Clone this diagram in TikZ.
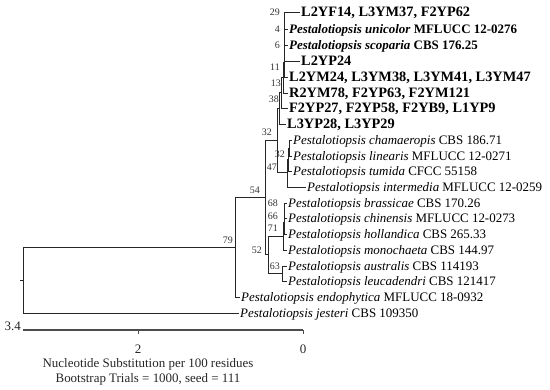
\documentclass[tikz,border=0pt]{standalone}
\usepackage{fontspec}
\setmainfont{Liberation Serif}

\newcommand{\pest}[1]{\textit{Pestalotiopsis #1}}

\begin{document}
\begin{tikzpicture}[
    x=1bp, y=-1bp,
    branch/.style={draw=black!85, line width=0.9bp},
    leaf/.style={anchor=west, inner xsep=1.5bp, inner ysep=0pt, font=\fontsize{13}{15}\selectfont, text height=8.6bp, text depth=0pt},
    bold/.style={leaf, font=\fontsize{13}{15}\selectfont\bfseries},
    code/.style={leaf, font=\fontsize{14.4}{16}\selectfont\bfseries, text height=9.5bp},
    boot/.style={anchor=east, inner sep=0pt, font=\fontsize{10}{12}\selectfont, text height=6.8bp, text depth=0pt, text=black!80},
    scale label/.style={inner sep=0pt, font=\fontsize{13}{15}\selectfont, text=black!85}
]
\useasboundingbox (0,0) rectangle (550,389);

% inner nodes of the tree
\coordinate (stub) at (20,280);
\coordinate (root) at (23,280);
\coordinate (n79) at (235,247);
\coordinate (n54) at (265,197.5);
\coordinate (n32) at (277,140.2);
\coordinate (nq) at (279,108.4);
\coordinate (n38) at (281,92.75);
\coordinate (n13) at (283,77.5);
\coordinate (n11) at (284,62);
\coordinate (n6) at (284,46.9);
\coordinate (n4) at (284,32.75);
\coordinate (n29) at (284,20.5);
\coordinate (n47) at (287,172);
\coordinate (n32b) at (288,159.5);
\coordinate (ncl) at (289,148);
\coordinate (n52) at (268,254.7);
\coordinate (n71) at (283,236);
\coordinate (n66) at (284,222);
\coordinate (n68) at (284,210.5);
\coordinate (n63) at (282,273.5);

% leaves
\node[code] (l2yf14) at (299.5,12) {L2YF14, L3YM37, F2YP62};
\node[bold] (unicolor) at (287.5,29) {\pest{unicolor} MFLUCC 12-0276};
\node[bold] (scoparia) at (287.5,45) {\pest{scoparia} CBS 176.25};
\node[code] (l2yp24) at (299.5,61) {L2YP24};
\node[code] (l2ym24) at (287.5,77) {L2YM24, L3YM38, L3YM41, L3YM47};
\node[code] (r2ym78) at (287.5,93) {R2YM78, F2YP63, F2YM121};
\node[code] (f2yp27) at (287.5,108) {F2YP27, F2YP58, F2YB9, L1YP9};
\node[code] (l3yp28) at (285.5,124) {L3YP28, L3YP29};
\node[leaf] (chamaeropis) at (291.5,140) {\pest{chamaeropis} CBS 186.71};
\node[leaf] (linearis) at (291.5,156) {\pest{linearis} MFLUCC 12-0271};
\node[leaf] (tumida) at (291.5,171) {\pest{tumida} CFCC 55158};
\node[leaf] (intermedia) at (305.5,187) {\pest{intermedia} MFLUCC 12-0259};
\node[leaf] (brassicae) at (286.5,203) {\pest{brassicae} CBS 170.26};
\node[leaf] (chinensis) at (286.5,218) {\pest{chinensis} MFLUCC 12-0273};
\node[leaf] (hollandica) at (286.5,234) {\pest{hollandica} CBS 265.33};
\node[leaf] (monochaeta) at (286.5,250) {\pest{monochaeta} CBS 144.97};
\node[leaf] (australis) at (286.5,266) {\pest{australis} CBS 114193};
\node[leaf] (leucadendri) at (286.5,281) {\pest{leucadendri} CBS 121417};
\node[leaf] (endophytica) at (239.5,297) {\pest{endophytica} MFLUCC 18-0932};
\node[leaf] (jesteri) at (238.5,313) {\pest{jesteri} CBS 109350};

% branches
\draw[branch] (stub) -- (root);
\draw[branch] (root) |- (n79);
\draw[branch] (root) |- (jesteri);
\draw[branch] (n79) |- (n54);
\draw[branch] (n79) |- (endophytica);
\draw[branch] (n54) |- (n32);
\draw[branch] (n54) |- (n52);
\draw[branch] (n32) |- (nq);
\draw[branch] (n32) |- (n47);
\draw[branch] (nq) |- (n38);
\draw[branch] (nq) |- (l3yp28);
\draw[branch] (n38) |- (n13);
\draw[branch] (n38) |- (f2yp27);
\draw[branch] (n13) |- (n11);
\draw[branch] (n13) |- (r2ym78);
\draw[branch] (n11) |- (n6);
\draw[branch] (n11) |- (l2ym24);
\draw[branch] (n6) |- (n4);
\draw[branch] (n6) |- (l2yp24);
\draw[branch] (n4) |- (n29);
\draw[branch] (n4) |- (scoparia);
\draw[branch] (n29) |- (l2yf14);
\draw[branch] (n29) |- (unicolor);
\draw[branch] (n47) |- (n32b);
\draw[branch] (n47) |- (intermedia);
\draw[branch] (n32b) |- (ncl);
\draw[branch] (n32b) |- (tumida);
\draw[branch] (ncl) |- (chamaeropis);
\draw[branch] (ncl) |- (linearis);
\draw[branch] (n52) |- (n71);
\draw[branch] (n52) |- (n63);
\draw[branch] (n71) |- (n66);
\draw[branch] (n71) |- (monochaeta);
\draw[branch] (n66) |- (n68);
\draw[branch] (n66) |- (hollandica);
\draw[branch] (n68) |- (brassicae);
\draw[branch] (n68) |- (chinensis);
\draw[branch] (n63) |- (australis);
\draw[branch] (n63) |- (leucadendri);

% bootstrap values
\node[boot] (b29) at (280,12.5) {29};
\node[boot] (b4) at (280,29) {4};
\node[boot] (b6) at (280,45) {6};
\node[boot] (b11) at (280,67) {11};
\node[boot] (b13) at (281,83) {13};
\node[boot] (b38) at (279,99) {38};
\node[boot] (b32) at (272,132) {32};
\node[boot] (b32b) at (285,154) {32};
\node[boot] (b47) at (277,167) {47};
\node[boot] (b54) at (260,190) {54};
\node[boot] (b68) at (278,203) {68};
\node[boot] (b66) at (278,216) {66};
\node[boot] (b71) at (278,228) {71};
\node[boot] (b52) at (262,250) {52};
\node[boot] (b63) at (280,266) {63};
\node[boot] (b79) at (233,240) {79};

% scale
\coordinate (ax34) at (23,330);
\coordinate (ax2) at (138,330);
\coordinate (ax0) at (303,330);
\draw[draw=black!70, line width=1.4bp] (ax34) -- (ax0);
\draw[draw=black!70, line width=1bp] (ax2) -- ++(0,4);
\draw[draw=black!70, line width=1bp] (ax0) -- ++(0,4);
\node[scale label, anchor=east] (lab34) at (21,326) {3.4};
\node[scale label] (lab2) at (138,349) {2};
\node[scale label] (lab0) at (303,349) {0};
\node[scale label, align=center] (caption) at (148,372) {Nucleotide Substitution per 100 residues\\Bootstrap Trials = 1000, seed = 111};
\end{tikzpicture}
\end{document}
